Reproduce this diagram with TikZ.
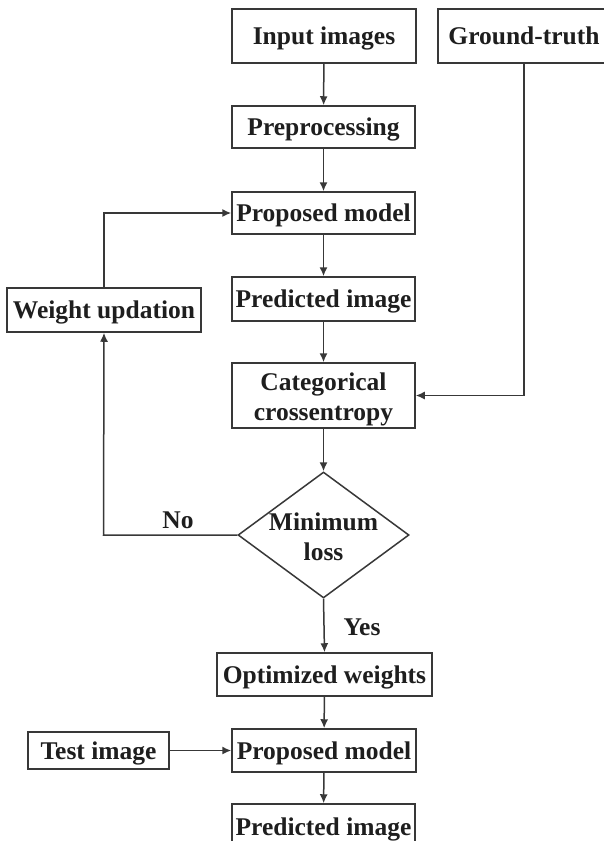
\documentclass[tikz,border=0pt]{standalone}
\usepackage{fontspec}
\setmainfont{Liberation Serif}
\usetikzlibrary{arrows.meta,shapes.geometric}
\definecolor{ln}{HTML}{383838}
\definecolor{tx}{HTML}{1E1E1E}
\begin{document}
\begin{tikzpicture}[x=1pt,y=-1pt,
  boxbase/.style={draw=ln,line width=1.5pt,rectangle,inner sep=0pt,text=tx,
    font=\fontsize{25.5}{30}\selectfont\bfseries,align=center},
  box/.style={boxbase,text height=20pt,text depth=3pt},
  lblbase/.style={text=tx,inner sep=0pt,font=\fontsize{25.5}{30}\selectfont\bfseries,align=center},
  lbl/.style={lblbase,text height=20pt,text depth=3pt},
  arr/.style={draw=ln,line width=1.5pt,-{Latex[length=9pt,width=8pt]}}]
\useasboundingbox (0,0) rectangle (603,841);
\fill[white] (0,0) rectangle (603,841);
\node[box,minimum width=184,minimum height=54] (in) at (324,36) {Input images};
\node[box,minimum width=172,minimum height=54] (gt) at (524,36) {Ground-truth};
\node[box,minimum width=183,minimum height=42] (pre) at (323.5,127) {Preprocessing};
\node[box,minimum width=183,minimum height=42] (pm) at (323.5,213) {Proposed model};
\node[box,minimum width=183,minimum height=44] (pi) at (323.5,299) {Predicted image};
\node[box,minimum width=194,minimum height=44] (wu) at (104,310) {Weight updation};
\node[boxbase,minimum width=183,minimum height=65] (cc) at (323.5,395.5) {\rule{0pt}{26pt}Categorical\\crossentropy};
\node[draw=ln,line width=1.5pt,diamond,inner sep=0pt,minimum width=171,minimum height=126] (dec) at (323.5,535) {};
\node[lblbase] (dectext) at (323.5,537) {Minimum\\loss};
\node[box,minimum width=215,minimum height=43] (ow) at (324.5,674.5) {Optimized weights};
\node[box,minimum width=141,minimum height=37] (ti) at (98.5,750.5) {Test image};
\node[box,minimum width=184,minimum height=43] (pm2) at (324,750.5) {Proposed model};
\node[box,minimum width=183,minimum height=46] (pi2) at (323.5,827) {Predicted image};
\node[lbl] (no) at (178,520) {No};
\node[lbl] (yes) at (362,627) {Yes};
\coordinate (c1) at (103.5,535);
\draw[arr] (in) -- (pre);
\draw[arr] (pre) -- (pm);
\draw[arr] (pm) -- (pi);
\draw[arr] (pi) -- (cc);
\draw[arr] (gt.south) |- (cc.east);
\draw[arr] (cc) -- (dec);
\draw[arr] (dec.west) -- (c1) -- (wu.south);
\draw[arr] (wu.north) |- (pm.west);
\draw[arr] (dec.south) -- (ow.north);
\draw[arr] (ow) -- (pm2);
\draw[arr] (ti) -- (pm2);
\draw[arr] (pm2) -- (pi2);
\end{tikzpicture}
\end{document}
